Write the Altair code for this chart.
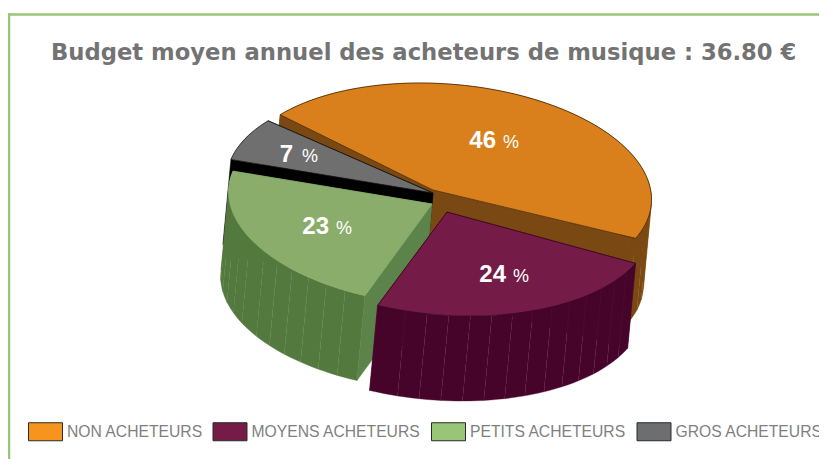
import math
import altair as alt

title = "Budget moyen annuel des acheteurs de musique : 36.80 €"
categories = ["NON ACHETEURS", "MOYENS ACHETEURS", "PETITS ACHETEURS", "GROS ACHETEURS"]
shares = [46, 24, 23, 7]
legend_colors = ["#f79420", "#741b47", "#98c676", "#6d6e70"]
top_colors = ["#d9801c", "#741b47", "#8aad6b", "#6f6f6f"]
wall_colors = ["#7a4812", "#46042a", "#53793f", "#000000"]
inner_colors = ["#7a4812", "#46042a", "#5c8349", "#000000"]
edge_colors = ["#4a2c08", "#3c0524", "#8aad6b", "#111111"]
seam_colors = ["#845013", "#561338", "#5a8047", "#000000"]
seam_share = [1.0, 1.0, 0.42, 0.0]   # part of each outer wall, from its start, that shows seams

START_DEG = 224.0
apex_x = [433, 447, 432, 433]
apex_y = [190, 212, 204, 193]
rim_x = [445, 445, 431, 433]
rim_y = [187, 212, 204, 193]
scale_r = [1.0, 1.0, 0.98, 1.0]
RX, RY, SHEAR = 205.0, 104.0, 25.0
DX, DY = -8.0, 85.0
OX, OY = 8, 8          # page margin


def pt(i, deg):
    t = math.radians(deg)
    c, s = math.cos(t) * scale_r[i], math.sin(t) * scale_r[i]
    return (rim_x[i] + RX * c + SHEAR * s - OX, rim_y[i] + RY * s - OY)


def feature(coords, fill, stroke, sw):
    ring = [list(p) for p in coords] + [list(coords[0])]
    return {"type": "Feature", "geometry": {"type": "Polygon", "coordinates": [ring]},
            "properties": {"fill": fill, "stroke": stroke, "sw": sw}}


def shift(p):
    return (p[0] + DX, p[1] + DY)


spans = []
a = START_DEG
for s in shares:
    spans.append((a, a + s * 3.6))
    a += s * 3.6

features = []
for i in [0, 3, 2, 1]:
    a0, a1 = spans[i]
    n = max(4, int((a1 - a0) / 2))
    arc = [pt(i, a0 + (a1 - a0) * j / n) for j in range(n + 1)]
    apex = (apex_x[i] - OX, apex_y[i] - OY)
    # inner walls
    for rim in (arc[0], arc[-1]):
        q = [apex, rim, shift(rim), shift(apex)]
        features.append(feature(q, inner_colors[i], inner_colors[i], 0.5))
    # outer wall, in strips
    if i != 3:
        nseg = max(1, int((a1 - a0) / 6))
        step = n / nseg
        for k in range(nseg):
            j0, j1 = int(k * step), int((k + 1) * step)
            seg = arc[j0:j1 + 1]
            poly = seg + [shift(p) for p in reversed(seg)]
            seam = seam_colors[i] if k / nseg < seam_share[i] else wall_colors[i]
            features.append(feature(poly, wall_colors[i], seam, 0.35))
    # top face
    features.append(feature([apex] + arc, top_colors[i], edge_colors[i], 0.8))

W, H = 811, 451

pie = alt.Chart(alt.Data(values=features)).mark_geoshape().encode(
    fill=alt.Fill("properties.fill:N", scale=None),
    stroke=alt.Stroke("properties.stroke:N", scale=None),
    strokeWidth=alt.StrokeWidth("properties.sw:Q", scale=None),
).project(type="identity", scale=1, translate=[0, 0])

# frame
frame_top = alt.Chart(alt.Data(values=[{"a": 1}])).mark_rule(color="#9bc47a", strokeWidth=2.5).encode(
    x=alt.value(0), x2=alt.value(W), y=alt.value(6.5))
frame_left = alt.Chart(alt.Data(values=[{"a": 1}])).mark_rule(color="#9bc47a", strokeWidth=2.5).encode(
    x=alt.value(1), y=alt.value(5.5), y2=alt.value(H))

# percent labels
num_right = [496, 506, 329, 293]
pct_left = [503, 513, 336, 302]
baseline = [148, 282, 234, 162]
label_rows = [{"n": str(s), "p": "%", "nx": nr - OX, "px": pl - OX, "y": b - OY}
              for s, nr, pl, b in zip(shares, num_right, pct_left, baseline)]
labels = alt.Data(values=label_rows)
nums = alt.Chart(labels).mark_text(font="Liberation Sans", fontWeight="bold", fontSize=24,
                                   color="white", align="right", baseline="alphabetic").encode(
    x=alt.X("nx:Q", scale=None, axis=None), y=alt.Y("y:Q", scale=None, axis=None), text="n:N")
pcts = alt.Chart(labels).mark_text(font="Liberation Sans", fontSize=18,
                                   color="white", align="left", baseline="alphabetic").encode(
    x=alt.X("px:Q", scale=None, axis=None), y=alt.Y("y:Q", scale=None, axis=None), text="p:N")

# legend carrier
legend_rows = [{"cat": c} for c in categories]
legend_layer = alt.Chart(alt.Data(values=legend_rows)).mark_point(
    filled=True, opacity=0, size=1).encode(
    x=alt.value(-50), y=alt.value(-50),
    color=alt.Color("cat:N", sort=categories,
                    scale=alt.Scale(domain=categories, range=legend_colors),
                    legend=alt.Legend(
                        orient="none", legendX=20, legendY=406, direction="horizontal",
                        columns=4, title=None, symbolType="M-1,-0.53H1V0.53H-1Z",
                        symbolSize=1156, symbolOpacity=1, symbolStrokeColor="#2a2a2a",
                        symbolStrokeWidth=1, labelFont="Liberation Sans",
                        labelFontSize=15.7, labelColor="#7f7f7f", labelOffset=4,
                        columnPadding=7.5, labelLimit=300)))

chart = alt.layer(pie, frame_top, frame_left, nums, pcts, legend_layer).properties(
    width=W, height=H,
    padding=0,
    autosize=alt.AutoSizeParams(type="none"),
    title=alt.TitleParams(title, font="DejaVu Sans", fontWeight="bold", fontSize=22.7,
                          color="#737373", anchor="start", dx=43, dy=111, frame="group"),
).configure_view(stroke=None)

chart.save("out.html", embed_options={"renderer": "svg", "actions": False})
